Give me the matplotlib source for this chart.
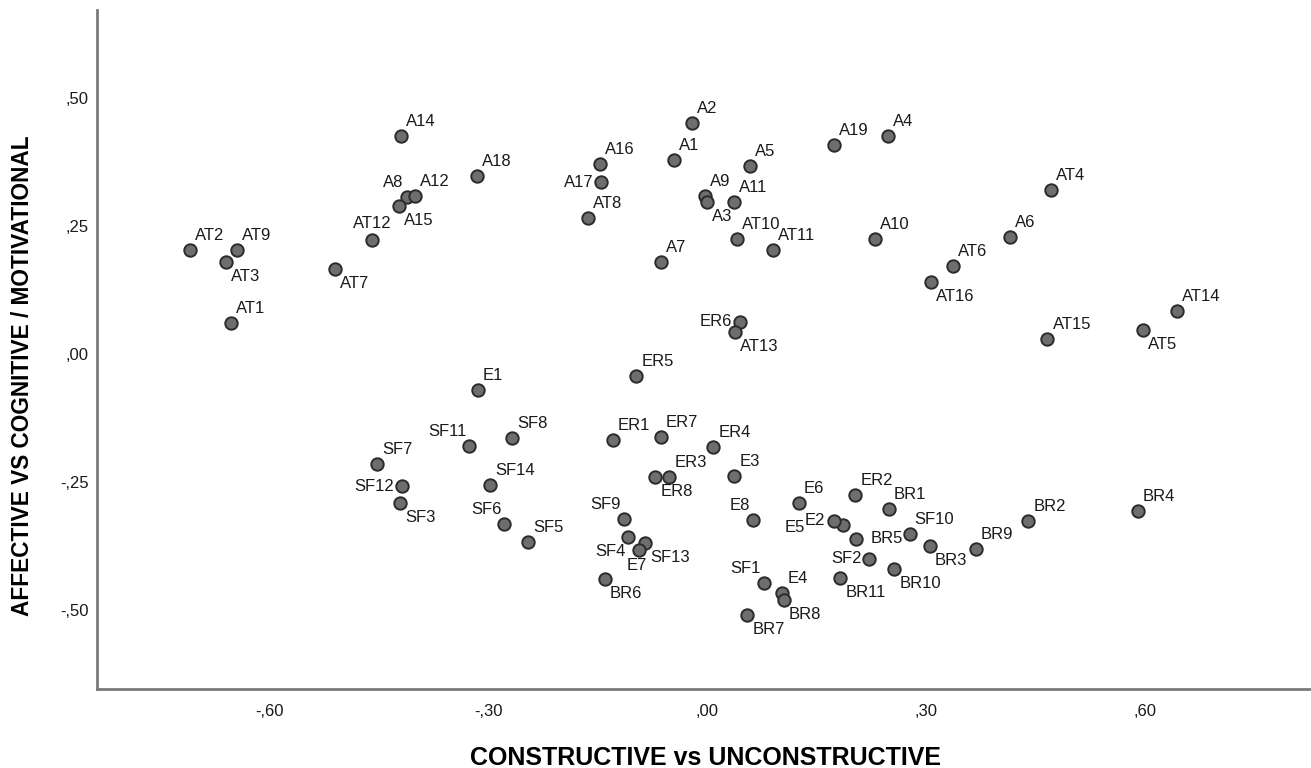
import matplotlib
matplotlib.use("Agg")
import matplotlib.pyplot as plt
from matplotlib.ticker import FuncFormatter

plt.rcParams['font.family'] = ['Liberation Sans', 'DejaVu Sans']

# Item coordinates
labels = ['AT2', 'AT9', 'AT3', 'AT1', 'AT7', 'AT12', 'A8', 'A12', 'A15', 'A14',
          'A18', 'A16', 'A17', 'AT8', 'A2', 'A1', 'A5', 'A9', 'A3', 'A11',
          'AT10', 'AT11', 'A7', 'ER6', 'AT13', 'A19', 'A4', 'AT4', 'A10', 'A6',
          'AT6', 'AT16', 'AT15', 'AT14', 'AT5',
          'E1', 'ER5', 'SF7', 'SF12', 'SF3', 'SF11', 'SF8', 'SF14', 'SF6', 'SF5',
          'ER1', 'ER7', 'ER4', 'ER8', 'ER3', 'E3', 'E8', 'E6', 'SF9', 'SF4',
          'SF13', 'E7', 'BR6', 'SF1', 'E4', 'BR8', 'BR7', 'E5', 'E2', 'ER2',
          'BR1', 'SF10', 'BR5', 'BR3', 'SF2', 'BR10', 'BR11', 'BR9', 'BR2', 'BR4']

dim1 = [-0.708, -0.644, -0.659, -0.653, -0.510, -0.459, -0.412, -0.401, -0.423, -0.419,
        -0.315, -0.147, -0.145, -0.164, -0.021, -0.045, 0.058, -0.003, 0.000, 0.036,
        0.041, 0.090, -0.063, 0.045, 0.038, 0.173, 0.247, 0.471, 0.230, 0.414,
        0.337, 0.307, 0.466, 0.644, 0.597,
        -0.314, -0.097, -0.452, -0.418, -0.421, -0.326, -0.267, -0.297, -0.278, -0.245,
        -0.129, -0.064, 0.008, -0.071, -0.052, 0.037, 0.062, 0.125, -0.114, -0.108,
        -0.085, -0.093, -0.140, 0.077, 0.103, 0.105, 0.055, 0.186, 0.173, 0.203,
        0.249, 0.277, 0.204, 0.305, 0.222, 0.256, 0.182, 0.368, 0.440, 0.590]

dim2 = [0.203, 0.203, 0.180, 0.061, 0.166, 0.223, 0.307, 0.309, 0.289, 0.426,
        0.348, 0.371, 0.336, 0.266, 0.451, 0.379, 0.367, 0.309, 0.297, 0.297,
        0.225, 0.203, 0.180, 0.063, 0.043, 0.408, 0.426, 0.320, 0.225, 0.229,
        0.172, 0.141, 0.029, 0.084, 0.047,
        -0.070, -0.043, -0.215, -0.258, -0.291, -0.180, -0.164, -0.256, -0.332, -0.367,
        -0.168, -0.162, -0.182, -0.240, -0.240, -0.238, -0.324, -0.291, -0.322, -0.357,
        -0.369, -0.383, -0.439, -0.447, -0.467, -0.480, -0.510, -0.334, -0.326, -0.275,
        -0.303, -0.352, -0.361, -0.375, -0.400, -0.420, -0.438, -0.381, -0.326, -0.307]

x_ticks = [-0.60, -0.30, 0.00, 0.30, 0.60]
y_ticks = [-0.50, -0.25, 0.00, 0.25, 0.50]

# where each label sits relative to its point
place = {'AT3': 'lr', 'AT7': 'lr', 'AT12': 'u', 'A8': 'ul', 'A15': 'lr', 'A17': 'l',
         'A3': 'lr', 'ER6': 'l', 'AT13': 'lr', 'AT16': 'lr', 'AT5': 'lr',
         'SF12': 'l', 'SF3': 'lr', 'SF11': 'ul', 'SF6': 'ul', 'ER8': 'lr',
         'E8': 'ul', 'SF9': 'ul', 'SF4': 'll', 'SF13': 'lr', 'E7': 'b', 'BR6': 'lr',
         'SF1': 'ul', 'BR8': 'lr', 'BR7': 'lr', 'E5': 'l2', 'E2': 'l',
         'BR5': 'r', 'SF2': 'l', 'BR10': 'lr', 'BR11': 'lr', 'BR3': 'lr'}
offsets = {'ur': (5, 7, 'left', 'bottom'), 'lr': (5, -7, 'left', 'top'),
           'ul': (-3, 7, 'right', 'bottom'), 'll': (-3, -7, 'right', 'top'),
           'l': (-8, 0, 'right', 'center'), 'l2': (-38, -2, 'right', 'center'),
           'r': (14, 0, 'left', 'center'),
           'u': (0, 9, 'center', 'bottom'), 'b': (-3, -8, 'center', 'top')}


def spss_fmt(v, pos=None):
    s = f"{abs(v):.2f}"[1:].replace('.', ',')
    return ('-' + s) if v < -1e-9 else s


fig = plt.figure(figsize=(13.11, 7.68), dpi=100)
ax = fig.add_axes([0.074, 0.103, 0.926, 0.884])

ax.scatter(dim1, dim2, s=80, c='#6e6e6e', edgecolors='#2b2b2b', linewidths=1.4, zorder=3)

for name, x, y in zip(labels, dim1, dim2):
    dx, dy, ha, va = offsets[place.get(name, 'ur')]
    ax.annotate(name, (x, y), xytext=(dx, dy), textcoords='offset pixels',
                ha=ha, va=va, fontsize=12, color='#1a1a1a')

ax.set_xlim(-0.836, 0.827)
ax.set_ylim(-0.654, 0.672)
ax.set_xticks(x_ticks)
ax.set_yticks(y_ticks)
ax.xaxis.set_major_formatter(FuncFormatter(spss_fmt))
ax.yaxis.set_major_formatter(FuncFormatter(spss_fmt))
ax.tick_params(length=0, labelsize=12, colors='#1a1a1a')
ax.tick_params(axis='x', pad=11)
ax.tick_params(axis='y', pad=6)

for side in ['top', 'right']:
    ax.spines[side].set_visible(False)
for side in ['left', 'bottom']:
    ax.spines[side].set_color('#7a7a7a')
    ax.spines[side].set_linewidth(2)

ax.set_xlabel('CONSTRUCTIVE vs UNCONSTRUCTIVE', fontsize=18, fontweight='bold')
ax.set_ylabel('AFFECTIVE VS COGNITIVE / MOTIVATIONAL', fontsize=16.3, fontweight='bold')
ax.xaxis.set_label_coords(0.5016, -0.1016)
ax.yaxis.set_label_coords(-0.061, 0.461)
ax.xaxis.label.set_va('center')
ax.yaxis.label.set_va('center')

fig.savefig('out.png', dpi=100)
